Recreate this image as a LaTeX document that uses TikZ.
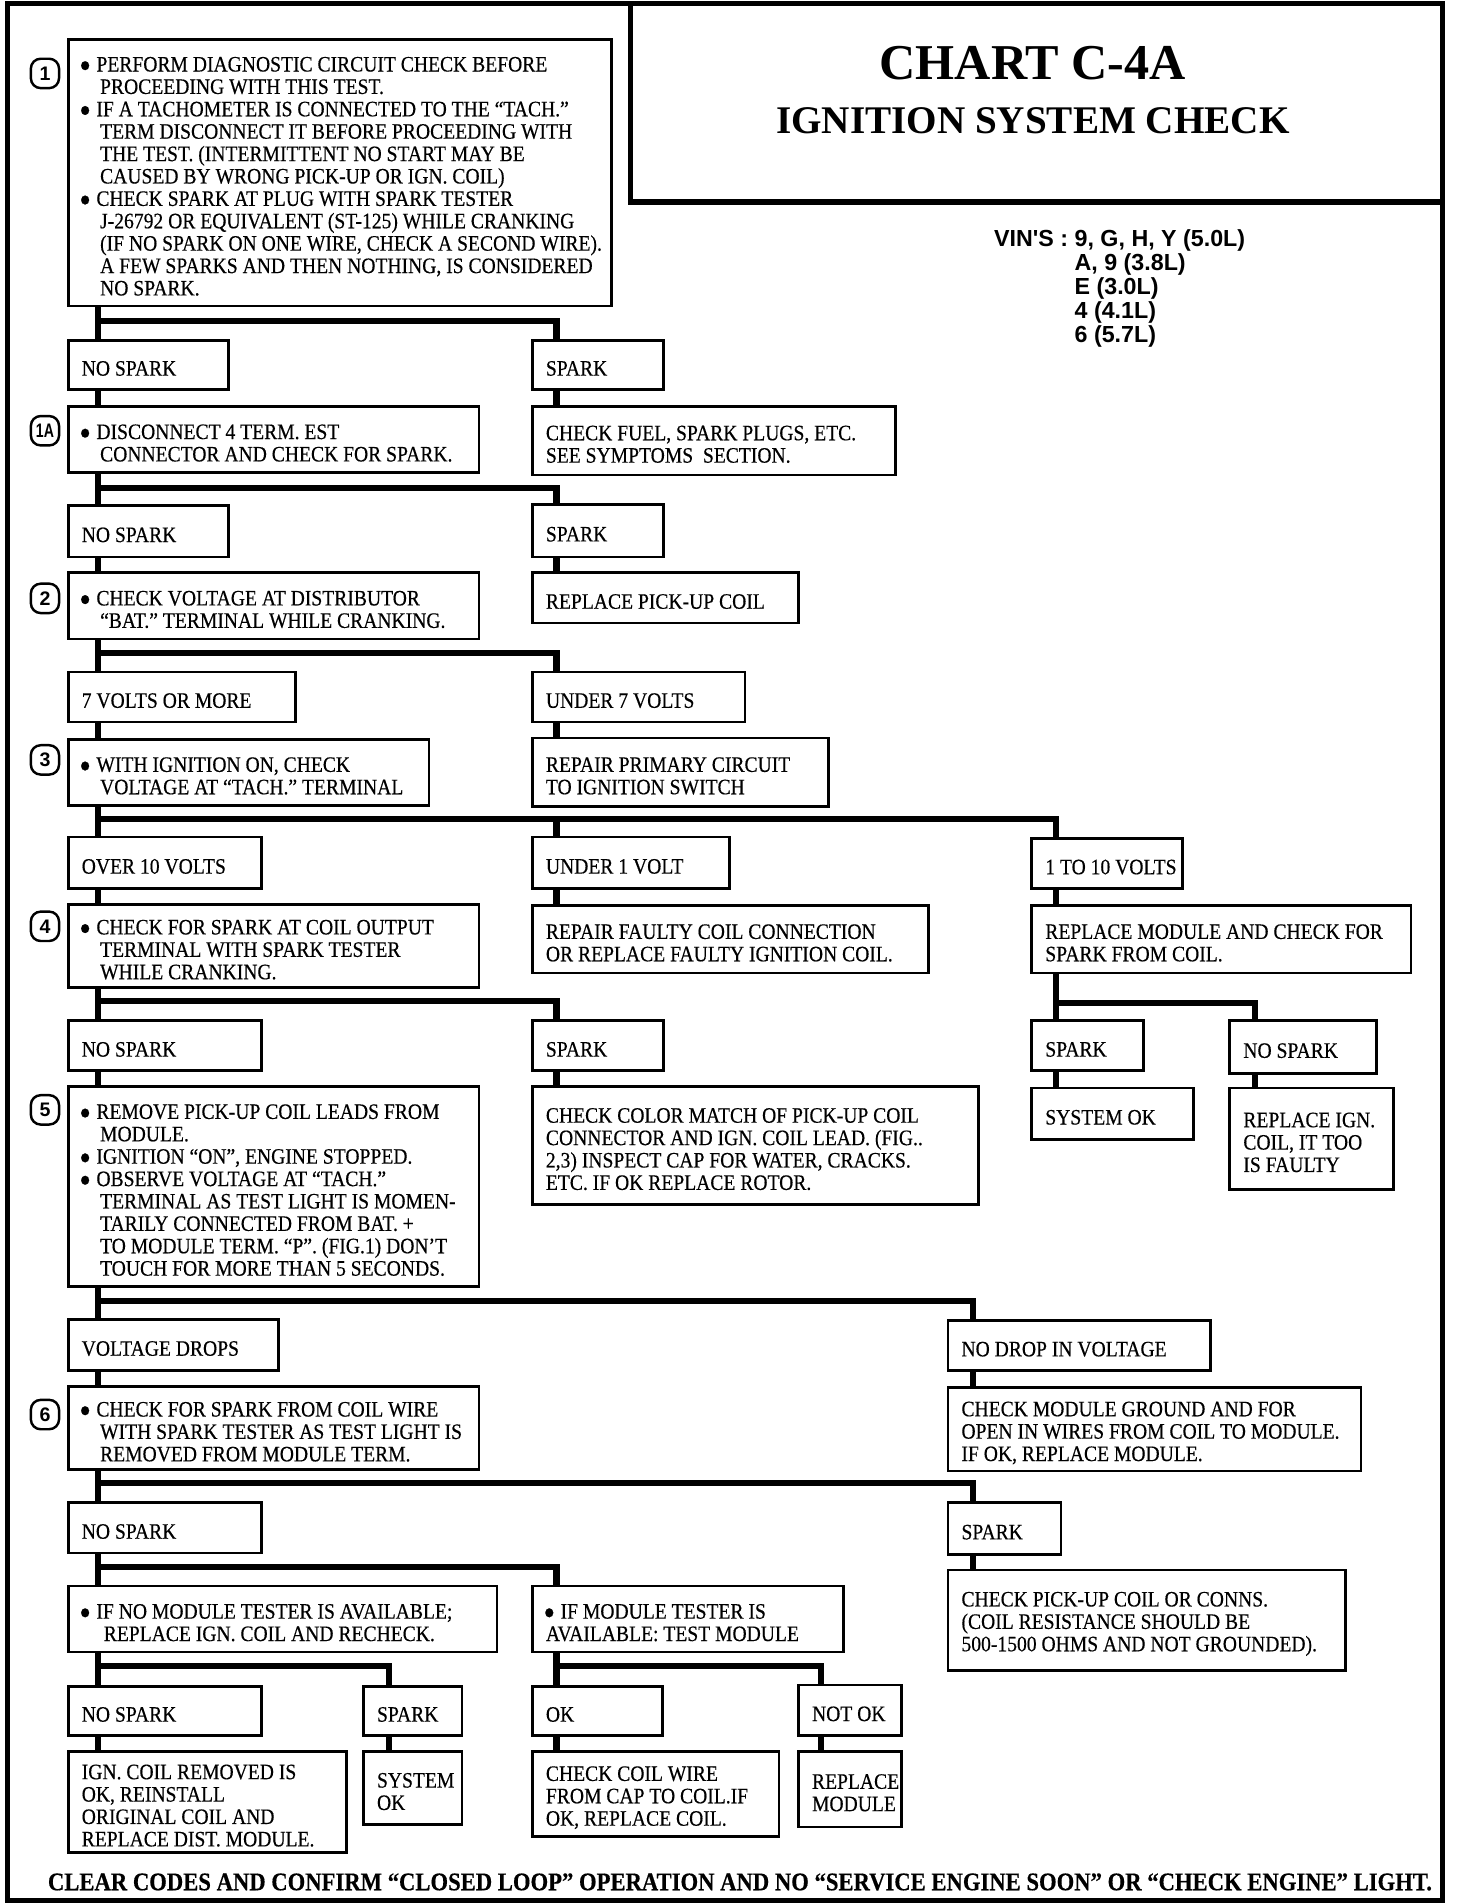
\documentclass[tikz,border=0pt]{standalone}
\usepackage{fontspec}
\setmainfont{Liberation Serif}[FakeStretch=0.89,FakeBold=0.4]
\newfontfamily\titlef{Liberation Serif}
\newfontfamily\sansf{Liberation Sans}
\newcommand\bul{\makebox[12pt][l]{\hspace*{-2pt}\raisebox{-0.65ex}{\scalebox{1.7}{\textbullet}}}}
\newcommand\ind{\hspace*{15pt}}
\tikzset{
  bx/.style={draw, line width=2.2pt, anchor=north west, inner sep=0pt},
  tx/.style={anchor=west, inner sep=0pt, align=left, font=\fontsize{18}{18.3}\selectfont},
  conn/.style={line width=5pt},
  num/.style={draw, line width=2pt, rounded corners=8pt, minimum width=23pt, minimum height=24pt, inner sep=0pt, font=\sansf\bfseries\fontsize{16}{16}\selectfont},
  vin/.style={anchor=base west, inner sep=0pt, font=\sansf\bfseries\fontsize{19}{19}\selectfont},
  frame/.style={line width=4.5pt}
}
\newcommand\bbox[6]{%
  \node[bx, minimum width=0.993*#4pt, minimum height=#5pt] (#1) at (#2,#3) {};
  \node[tx] (#1t) at ([xshift=12pt,yshift=-3pt]#1.west) {#6};}
\begin{document}
\begin{tikzpicture}[x=0.993pt,y=-1pt]
\useasboundingbox (0,0) rectangle (1198.4,1556);
% frame and title
\draw[frame] (6,3) rectangle (1187,1553);
\draw[frame] (519,3) -- (519,165) -- (1187,165);
\node[font=\titlef\bfseries\fontsize{41}{41}\selectfont] (title1) at (850,52) {CHART C-4A};
\node[font=\titlef\bfseries\fontsize{32}{32}\selectfont] (title2) at (850,99) {IGNITION SYSTEM CHECK};
\node[vin] (vin1) at (818,201.5) {VIN'S : 9, G, H, Y (5.0L)};
\node[vin] (vin2) at (818,221) {\phantom{VIN'S : }A, 9 (3.8L)};
\node[vin] (vin3) at (818,240.5) {\phantom{VIN'S : }E (3.0L)};
\node[vin] (vin4) at (818,260) {\phantom{VIN'S : }4 (4.1L)};
\node[vin] (vin5) at (818,279.5) {\phantom{VIN'S : }6 (5.7L)};
% step numbers
\node[num] (n1) at (37,60) {1};
\node[num] (n1a) at (37,352) {\scalebox{0.72}[1]{1A}};
\node[num] (n2) at (37,489) {2};
\node[num] (n3) at (37,621) {3};
\node[num] (n4) at (37,757) {4};
\node[num] (n5) at (37,907) {5};
\node[num] (n6) at (37,1156) {6};
% step boxes
\bbox{b1}{55}{31}{447}{218}{\bul PERFORM DIAGNOSTIC CIRCUIT CHECK BEFORE\\\ind PROCEEDING WITH THIS TEST.\\\bul IF A TACHOMETER IS CONNECTED TO THE “TACH.”\\\ind TERM DISCONNECT IT BEFORE PROCEEDING WITH\\\ind THE TEST. (INTERMITTENT NO START MAY BE\\\ind CAUSED BY WRONG PICK-UP OR IGN. COIL)\\\bul CHECK SPARK AT PLUG WITH SPARK TESTER\\\ind J-26792 OR EQUIVALENT (ST-125) WHILE CRANKING\\\ind (IF NO SPARK ON ONE WIRE, CHECK A SECOND WIRE).\\\ind A FEW SPARKS AND THEN NOTHING, IS CONSIDERED\\\ind NO SPARK.}
\bbox{b1a}{55}{331}{338}{54}{\bul DISCONNECT 4 TERM. EST\\\ind CONNECTOR AND CHECK FOR SPARK.}
\bbox{b2}{55}{467}{338}{54}{\bul CHECK VOLTAGE AT DISTRIBUTOR\\\ind “BAT.” TERMINAL WHILE CRANKING.}
\bbox{b3}{55}{603}{297}{54}{\bul WITH IGNITION ON, CHECK\\\ind VOLTAGE AT “TACH.” TERMINAL}
\bbox{b4}{55}{738}{338}{68}{\bul CHECK FOR SPARK AT COIL OUTPUT\\\ind TERMINAL WITH SPARK TESTER\\\ind WHILE CRANKING.}
\bbox{b5}{55}{887}{338}{163}{\bul REMOVE PICK-UP COIL LEADS FROM\\\ind MODULE.\\\bul IGNITION “ON”, ENGINE STOPPED.\\\bul OBSERVE VOLTAGE AT “TACH.”\\\ind TERMINAL AS TEST LIGHT IS MOMEN-\\\ind TARILY CONNECTED FROM BAT. +\\\ind TO MODULE TERM. “P”. (FIG.1) DON’T\\\ind TOUCH FOR MORE THAN 5 SECONDS.}
\bbox{b6}{55}{1132}{338}{68}{\bul CHECK FOR SPARK FROM COIL WIRE\\\ind WITH SPARK TESTER AS TEST LIGHT IS\\\ind REMOVED FROM MODULE TERM.}
\bbox{bnm}{55}{1295}{353}{54}{\bul IF NO MODULE TESTER IS AVAILABLE;\\\hspace*{18pt}REPLACE IGN. COIL AND RECHECK.}
\bbox{bm}{437}{1295}{256}{54}{\bul IF MODULE TESTER IS\\AVAILABLE: TEST MODULE}
% answer labels
\bbox{l1}{55}{277}{132}{40}{NO SPARK}
\bbox{l1s}{437}{277}{108}{40}{SPARK}
\bbox{l2}{55}{412}{132}{42}{NO SPARK}
\bbox{l2s}{437}{411}{108}{43}{SPARK}
\bbox{l3}{55}{548}{187}{41}{7 VOLTS OR MORE}
\bbox{l3u}{437}{548}{175}{41}{UNDER 7 VOLTS}
\bbox{l4}{55}{683}{159}{42}{OVER 10 VOLTS}
\bbox{l4u}{437}{683}{162}{42}{UNDER 1 VOLT}
\bbox{l4m}{848}{684}{124}{41}{1 TO 10 VOLTS}
\bbox{l5}{55}{833}{159}{41}{NO SPARK}
\bbox{l5s}{437}{833}{108}{41}{SPARK}
\bbox{sa}{848}{833}{92}{41}{SPARK}
\bbox{sb}{1011}{833}{121}{43}{NO SPARK}
\bbox{l6}{55}{1077}{173}{42}{VOLTAGE DROPS}
\bbox{l6n}{779}{1078}{216}{41}{NO DROP IN VOLTAGE}
\bbox{l7}{55}{1227}{159}{41}{NO SPARK}
\bbox{l7s}{779}{1227}{93}{42}{SPARK}
\bbox{l8a}{55}{1377}{159}{40}{NO SPARK}
\bbox{l8b}{298}{1377}{81}{40}{SPARK}
\bbox{l8c}{437}{1377}{107}{40}{OK}
\bbox{l8d}{656}{1376}{85}{41}{NOT OK}
% result boxes
\bbox{r1}{437}{331}{299}{56}{CHECK FUEL, SPARK PLUGS, ETC.\\SEE SYMPTOMS\ \ SECTION.}
\bbox{r2}{437}{467}{219}{41}{REPLACE PICK-UP COIL}
\bbox{r3}{437}{602}{244}{56}{REPAIR PRIMARY CIRCUIT\\TO IGNITION SWITCH}
\bbox{r4a}{437}{739}{326}{55}{REPAIR FAULTY COIL CONNECTION\\OR REPLACE FAULTY IGNITION COIL.}
\bbox{r4b}{848}{739}{312}{55}{REPLACE MODULE AND CHECK FOR\\SPARK FROM COIL.}
\bbox{r4c}{848}{888}{133}{42}{SYSTEM OK}
\bbox{r4d}{1011}{888}{135}{83}{REPLACE IGN.\\COIL, IT TOO\\IS FAULTY}
\bbox{r5}{437}{887}{367}{96}{CHECK COLOR MATCH OF PICK-UP COIL\\CONNECTOR AND IGN. COIL LEAD. (FIG..\\2,3) INSPECT CAP FOR WATER, CRACKS.\\ETC. IF OK REPLACE ROTOR.}
\bbox{r6}{779}{1133}{340}{68}{CHECK MODULE GROUND AND FOR\\OPEN IN WIRES FROM COIL TO MODULE.\\IF OK, REPLACE MODULE.}
\bbox{r7}{779}{1282}{327}{82}{CHECK PICK-UP COIL OR CONNS.\\(COIL RESISTANCE SHOULD BE\\500-1500 OHMS AND NOT GROUNDED).}
\bbox{r8a}{55}{1430}{229}{83}{IGN. COIL REMOVED IS\\OK, REINSTALL\\ORIGINAL COIL AND\\REPLACE DIST. MODULE.}
\bbox{r8b}{298}{1430}{81}{60}{SYSTEM\\OK}
\bbox{r8c}{437}{1430}{203}{70}{CHECK COIL WIRE\\FROM CAP TO COIL.IF\\OK, REPLACE COIL.}
\bbox{r8d}{656}{1430}{85}{62}{REPLACE\\MODULE}
% footer
\node[font=\bfseries\fontsize{20.8}{20.8}\selectfont] (footer) at (609,1538) {CLEAR CODES AND CONFIRM “CLOSED LOOP” OPERATION AND NO “SERVICE ENGINE SOON” OR “CHECK ENGINE” LIGHT.};
% connector columns and junction levels
\coordinate (XL) at (81,0);
\coordinate (XR) at (458,0);
\coordinate (XM) at (869,0);
\coordinate (XQ) at (1033,0);
\coordinate (XD) at (801,0);
\coordinate (XB) at (320,0);
\coordinate (XN) at (676,0);
\coordinate (J1) at (0,262);
\coordinate (J2) at (0,399);
\coordinate (J3) at (0,533.5);
\coordinate (J4) at (0,669.5);
\coordinate (J5) at (0,818);
\coordinate (J5M) at (0,819.5);
\coordinate (J6) at (0,1063);
\coordinate (J7) at (0,1212);
\coordinate (J8) at (0,1280.5);
\coordinate (J9) at (0,1361.5);
% connectors
\draw[conn] (b1.south -| XL) -- (l1.north -| XL);
\draw[conn] (XL |- J1) -| (l1s.north -| XR);
\draw[conn] (l1.south -| XL) -- (b1a.north -| XL);
\draw[conn] (l1s.south -| XR) -- (r1.north -| XR);
\draw[conn] (b1a.south -| XL) -- (l2.north -| XL);
\draw[conn] (XL |- J2) -| (l2s.north -| XR);
\draw[conn] (l2.south -| XL) -- (b2.north -| XL);
\draw[conn] (l2s.south -| XR) -- (r2.north -| XR);
\draw[conn] (b2.south -| XL) -- (l3.north -| XL);
\draw[conn] (XL |- J3) -| (l3u.north -| XR);
\draw[conn] (l3.south -| XL) -- (b3.north -| XL);
\draw[conn] (l3u.south -| XR) -- (r3.north -| XR);
\draw[conn] (b3.south -| XL) -- (l4.north -| XL);
\draw[conn] (XL |- J4) -| (l4m.north -| XM);
\draw[conn] (XR |- J4) -- (l4u.north -| XR);
\draw[conn] (l4.south -| XL) -- (b4.north -| XL);
\draw[conn] (l4u.south -| XR) -- (r4a.north -| XR);
\draw[conn] (l4m.south -| XM) -- (r4b.north -| XM);
\draw[conn] (r4b.south -| XM) -- (sa.north -| XM);
\draw[conn] (XM |- J5M) -| (sb.north -| XQ);
\draw[conn] (sa.south -| XM) -- (r4c.north -| XM);
\draw[conn] (sb.south -| XQ) -- (r4d.north -| XQ);
\draw[conn] (b4.south -| XL) -- (l5.north -| XL);
\draw[conn] (XL |- J5) -| (l5s.north -| XR);
\draw[conn] (l5.south -| XL) -- (b5.north -| XL);
\draw[conn] (l5s.south -| XR) -- (r5.north -| XR);
\draw[conn] (b5.south -| XL) -- (l6.north -| XL);
\draw[conn] (XL |- J6) -| (l6n.north -| XD);
\draw[conn] (l6.south -| XL) -- (b6.north -| XL);
\draw[conn] (l6n.south -| XD) -- (r6.north -| XD);
\draw[conn] (b6.south -| XL) -- (l7.north -| XL);
\draw[conn] (XL |- J7) -| (l7s.north -| XD);
\draw[conn] (l7s.south -| XD) -- (r7.north -| XD);
\draw[conn] (l7.south -| XL) -- (bnm.north -| XL);
\draw[conn] (XL |- J8) -| (bm.north -| XR);
\draw[conn] (bnm.south -| XL) -- (l8a.north -| XL);
\draw[conn] (XL |- J9) -| (l8b.north -| XB);
\draw[conn] (bm.south -| XR) -- (l8c.north -| XR);
\draw[conn] (XR |- J9) -| (l8d.north -| XN);
\draw[conn] (l8a.south -| XL) -- (r8a.north -| XL);
\draw[conn] (l8b.south -| XB) -- (r8b.north -| XB);
\draw[conn] (l8c.south -| XR) -- (r8c.north -| XR);
\draw[conn] (l8d.south -| XN) -- (r8d.north -| XN);
\end{tikzpicture}
\end{document}
